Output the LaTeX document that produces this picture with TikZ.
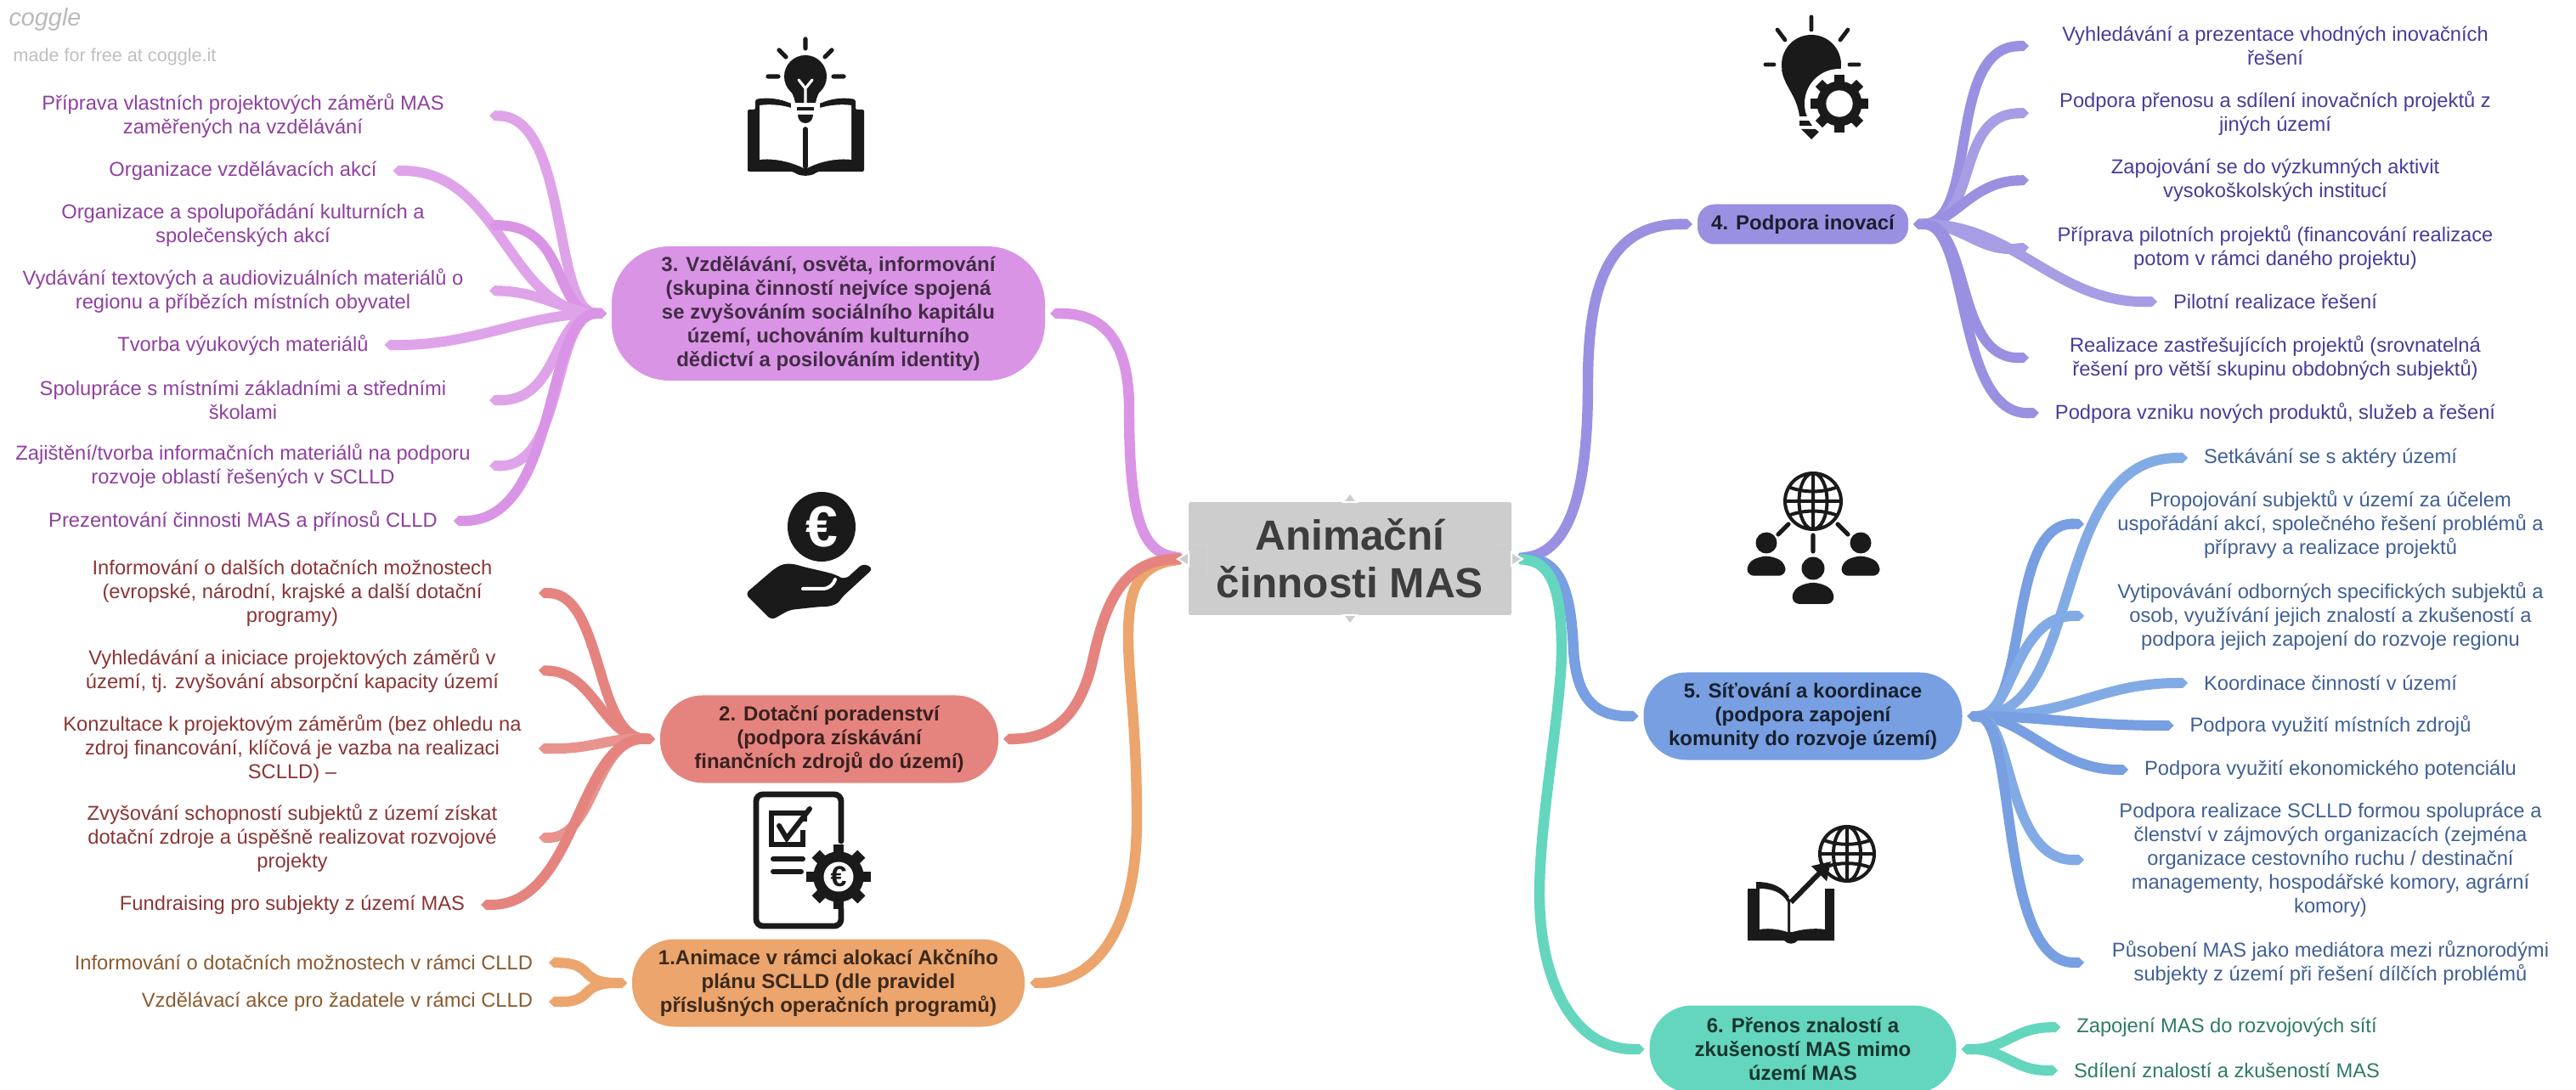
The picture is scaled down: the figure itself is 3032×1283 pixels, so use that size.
\documentclass[tikz,border=0pt]{standalone}
\usepackage{fontspec}
\setmainfont{Liberation Sans}
\usetikzlibrary{arrows.meta}

\definecolor{violetnode}{HTML}{DA94E5}
\definecolor{violetbranch}{HTML}{DFA3EA}
\definecolor{violettext}{HTML}{8F3FA0}
\definecolor{rednode}{HTML}{E5847F}
\definecolor{redtext}{HTML}{8B3434}
\definecolor{orangenode}{HTML}{ECA56C}
\definecolor{orangetext}{HTML}{8A5A2E}
\definecolor{indigonode}{HTML}{9A90E2}
\definecolor{indigotext}{HTML}{463C9A}
\definecolor{bluenode}{HTML}{779FE2}
\definecolor{bluebranch}{HTML}{82ABE6}
\definecolor{bluetext}{HTML}{3F5F95}
\definecolor{tealnode}{HTML}{64D6BE}
\definecolor{tealtext}{HTML}{2F7A68}
\definecolor{rootgray}{HTML}{CDCDCD}
\definecolor{icondark}{HTML}{1A1A1A}

\tikzset{
  every picture/.style={line width=0.5pt},
  leaf/.style={font=\fontsize{5.93}{7}\selectfont,align=center,inner xsep=4.5pt,inner ysep=0pt},
  wideleaf/.style={leaf,minimum width=144.5pt},
  mainnode/.style={font=\fontsize{6}{7}\selectfont\bfseries,align=center,rounded corners=12.5pt,inner sep=0pt,minimum height=25.75pt,outer xsep=1.5pt},
  branch/.style={line width=3pt,{Triangle Cap[]}-{Triangle Cap[]}},
  trunk/.style={line width=3.1pt,{Triangle Cap[]}-{Triangle Cap[]}},
  iconline/.style={draw=icondark,line width=1pt,line cap=round},
  iconfill/.style={fill=icondark}
}

% globe at (x,y) with radius r
\newcommand{\globeicon}[3]{
\begin{scope}[shift={(#1,#2)},scale=#3]
\draw [iconline] (0,0) circle (1) (0,0) ellipse (0.5 and 1) (0,-1) -- (0,1) (-1,0) -- (1,0);
\draw [iconline] (-0.85,-0.5) .. controls (-0.3,-0.3) and (0.3,-0.3) .. (0.85,-0.5);
\draw [iconline] (-0.85,0.5) .. controls (-0.3,0.3) and (0.3,0.3) .. (0.85,0.5);
\end{scope}}
% gear at (x,y) with radius r
\newcommand{\gearicon}[3]{
\begin{scope}[shift={(#1,#2)},scale=#3]
\foreach \toothangle in {0,45,...,315}
  \fill [iconfill,rotate=\toothangle] (-0.17,0.6) rectangle (0.17,1);
\fill [iconfill] (0,0) circle (0.78);
\fill [white] (0,0) circle (0.46);
\end{scope}}
% person at (x,y) of the head
\newcommand{\personicon}[3]{
\fill [iconfill] (#1,#2) circle (#3);
\fill [iconfill,rounded corners=2pt] ({#1-1.8*#3},{#2+3.1*#3}) -- ({#1-1.8*#3},{#2+1.9*#3}) -- ({#1-0.6*#3},{#2+1.25*#3}) -- ({#1+0.6*#3},{#2+1.25*#3}) -- ({#1+1.8*#3},{#2+1.9*#3}) -- ({#1+1.8*#3},{#2+3.1*#3}) -- cycle;}

\begin{document}
\begin{tikzpicture}[x=0.25pt,y=0.25pt,yscale=-1,xscale=1]
\useasboundingbox (0,-2) rectangle (3032,1281);

% Logo
\node (logo) at (53,21) [text=black!27,font=\fontsize{7.2}{8}\selectfont\itshape] {coggle};
\node (madefor) at (135,65) [text=black!25,font=\fontsize{5.4}{7}\selectfont] {made for free at coggle.it};

% Root
\node (root) at (1589,655.5) [fill=rootgray,text=black!76,font=\fontsize{12.4}{14}\selectfont\bfseries,align=center,minimum width=95pt,minimum height=33.25pt,inner sep=0pt,rounded corners=0.6pt,outer xsep=1pt] {Animační\\činnosti MAS};

% Main nodes
\node (vzdel) at (975,367) [mainnode,fill=violetnode,text=violetnode!30!black,minimum width=127.5pt,minimum height=39.5pt,rounded corners=17pt] {3. Vzdělávání, osvěta, informování\\(skupina činností nejvíce spojená\\se zvyšováním sociálního kapitálu\\území, uchováním kulturního\\dědictví a posilováním identity)};
\node (dotac) at (976,868) [mainnode,fill=rednode,text=rednode!25!black,minimum width=99.5pt] {2. Dotační poradenství\\(podpora získávání\\finančních zdrojů do území)};
\node (anim) at (975,1155) [mainnode,fill=orangenode,text=orangenode!25!black,minimum width=115.5pt] {1.Animace v rámci alokací Akčního\\plánu SCLLD (dle pravidel\\příslušných operačních programů)};
\node (inov) at (2122,262) [mainnode,fill=indigonode,text=indigonode!20!black,minimum width=62pt,minimum height=11.75pt,rounded corners=5pt] {4. Podpora inovací};
\node (sit) at (2122,841) [mainnode,fill=bluenode,text=bluenode!20!black,minimum width=93.75pt] {5. Síťování a koordinace\\(podpora zapojení\\komunity do rozvoje území)};
\node (prenos) at (2122,1233) [mainnode,fill=tealnode,text=tealnode!25!black,minimum width=90.25pt] {6. Přenos znalostí a\\zkušeností MAS mimo\\území MAS};

% Leaves of 3
\node (va) at (286,134) [wideleaf,text=violettext] {Příprava vlastních projektových záměrů MAS\\zaměřených na vzdělávání};
\node (vb) at (286,199) [leaf,text=violettext] {Organizace vzdělávacích akcí};
\node (vc) at (286,263) [wideleaf,text=violettext] {Organizace a spolupořádání kulturních a\\společenských akcí};
\node (vd) at (286,340) [wideleaf,text=violettext] {Vydávání textových a audiovizuálních materiálů o\\regionu a příbězích místních obyvatel};
\node (ve) at (286,404) [leaf,text=violettext] {Tvorba výukových materiálů};
\node (vf) at (286,469) [wideleaf,text=violettext] {Spolupráce s místními základními a středními\\školami};
\node (vg) at (286,546) [wideleaf,text=violettext] {Zajištění/tvorba informačních materiálů na podporu\\rozvoje oblastí řešených v SCLLD};
\node (vh) at (286,611) [leaf,text=violettext] {Prezentování činnosti MAS a přínosů CLLD};

% Leaves of 2
\node (da) at (344,696) [wideleaf,text=redtext] {Informování o dalších dotačních možnostech\\(evropské, národní, krajské a další dotační\\programy)};
\node (db) at (344,787) [wideleaf,text=redtext] {Vyhledávání a iniciace projektových záměrů v\\území, tj. zvyšování absorpční kapacity území};
\node (dc) at (344,879) [wideleaf,text=redtext] {Konzultace k projektovým záměrům (bez ohledu na\\zdroj financování, klíčová je vazba na realizaci\\SCLLD) –};
\node (dd) at (344,984) [wideleaf,text=redtext] {Zvyšování schopností subjektů z území získat\\dotační zdroje a úspěšně realizovat rozvojové\\projekty};
\node (de) at (344,1063) [leaf,text=redtext] {Fundraising pro subjekty z území MAS};

% Leaves of 1
\node (aa) at (646,1131) [leaf,anchor=east,text=orangetext] {Informování o dotačních možnostech v rámci CLLD};
\node (ab) at (646,1177) [leaf,anchor=east,text=orangetext] {Vzdělávací akce pro žadatele v rámci CLLD};

% Leaves of 4
\node (ia) at (2678,52) [wideleaf,text=indigotext] {Vyhledávání a prezentace vhodných inovačních\\řešení};
\node (ib) at (2678,131) [wideleaf,text=indigotext] {Podpora přenosu a sdílení inovačních projektů z\\jiných území};
\node (ic) at (2678,210) [wideleaf,text=indigotext] {Zapojování se do výzkumných aktivit\\vysokoškolských institucí};
\node (id) at (2678,289) [wideleaf,text=indigotext] {Příprava pilotních projektů (financování realizace\\potom v rámci daného projektu)};
\node (ie) at (2678,353) [leaf,text=indigotext] {Pilotní realizace řešení};
\node (if) at (2678,419) [wideleaf,text=indigotext] {Realizace zastřešujících projektů (srovnatelná\\řešení pro větší skupinu obdobných subjektů)};
\node (ig) at (2678,484) [leaf,text=indigotext] {Podpora vzniku nových produktů, služeb a řešení};

% Leaves of 5
\node (sa) at (2743,537) [leaf,text=bluetext] {Setkávání se s aktéry území};
\node (sb) at (2743,615) [wideleaf,text=bluetext] {Propojování subjektů v území za účelem\\uspořádání akcí, společného řešení problémů a\\přípravy a realizace projektů};
\node (sc) at (2743,723) [wideleaf,text=bluetext] {Vytipovávání odborných specifických subjektů a\\osob, využívání jejich znalostí a zkušeností a\\podpora jejich zapojení do rozvoje regionu};
\node (sd) at (2743,802) [leaf,text=bluetext] {Koordinace činností v území};
\node (se) at (2743,852) [leaf,text=bluetext] {Podpora využití místních zdrojů};
\node (sf) at (2743,904) [leaf,text=bluetext] {Podpora využití ekonomického potenciálu};
\node (sg) at (2743,1010) [wideleaf,text=bluetext] {Podpora realizace SCLLD formou spolupráce a\\členství v zájmových organizacích (zejména\\organizace cestovního ruchu / destinační\\managementy, hospodářské komory, agrární\\komory)};
\node (sh) at (2743,1131) [wideleaf,text=bluetext] {Působení MAS jako mediátora mezi různorodými\\subjekty z území při řešení dílčích problémů};

% Leaves of 6
\node (pa) at (2621,1207) [leaf,text=tealtext] {Zapojení MAS do rozvojových sítí};
\node (pb) at (2621,1258) [leaf,text=tealtext] {Sdílení znalostí a zkušeností MAS};

% Trunks
\draw [trunk,draw=violetnode] (vzdel.east) .. controls (1300,367) and (1329,400) .. (1329,480) .. controls (1329,610) and (1345,648) .. (root.west);
\draw [trunk,draw=orangenode] (anim.east) .. controls (1290,1155) and (1338,1090) .. (1338,963) .. controls (1338,850) and (1328,800) .. (1328,747) .. controls (1328,690) and (1340,664) .. (root.west);
\draw [trunk,draw=rednode] (dotac.east) .. controls (1240,867) and (1270,840) .. (1285,780) .. controls (1300,710) and (1320,658) .. (root.west);
\draw [trunk,draw=indigonode] (root.east) .. controls (1850,648) and (1869,570) .. (1869,450) .. controls (1869,340) and (1890,261) .. (inov.west);
\draw [trunk,draw=bluenode] (root.east) .. controls (1835,655) and (1849,690) .. (1852,763) .. controls (1855,810) and (1870,841) .. (sit.west);
\draw [trunk,draw=tealnode] (root.east) .. controls (1825,660) and (1838,690) .. (1838,763) .. controls (1838,830) and (1812,960) .. (1812,1050) .. controls (1812,1150) and (1850,1233) .. (prenos.west);

% Root edge and tips, over the trunks
\fill [white] (1399,640) rectangle (1420,672) (1779,640) rectangle (1758,672);
\fill [rootgray] (1399,640) rectangle (1420,672) (1779,640) rectangle (1758,672);
\fill [rootgray,draw=white,line width=0.5pt] (1589,578) -- (1581,589) -- (1597,589) -- cycle (1589,733) -- (1581,722) -- (1597,722) -- cycle (1386,656) -- (1399,648) -- (1399,664) -- cycle (1792,656) -- (1779,648) -- (1779,664) -- cycle;

% Branches of 3
\draw [branch,draw=violetbranch] (vzdel.west) .. controls (650,367) and (670,137) .. (va.east);
\draw [branch,draw=violetbranch] (vzdel.west) .. controls (600,367) and (590,199) .. (vb.east);
\draw [branch,draw=violetnode] (vzdel.west) .. controls (650,367) and (670,265) .. (vc.east);
\draw [branch,draw=violetbranch] (vzdel.west) .. controls (670,367) and (640,342) .. (vd.east);
\draw [branch,draw=violetbranch] (vzdel.west) .. controls (620,367) and (560,405) .. (ve.east);
\draw [branch,draw=violetbranch] (vzdel.west) .. controls (650,367) and (660,470) .. (vf.east);
\draw [branch,draw=violetbranch] (vzdel.west) .. controls (650,367) and (665,548) .. (vg.east);
\draw [branch,draw=violetnode] (vzdel.west) .. controls (640,367) and (660,612) .. (vh.east);

% Branches of 2
\draw [branch,draw=rednode] (dotac.west) .. controls (700,866) and (710,697) .. (da.east);
\draw [branch,draw=rednode] (dotac.west) .. controls (710,866) and (700,790) .. (db.east);
\draw [branch,draw=rednode!88!white] (dotac.west) .. controls (715,866) and (700,880) .. (dc.east);
\draw [branch,draw=rednode!88!white] (dotac.west) .. controls (700,866) and (700,984) .. (dd.east);
\draw [branch,draw=rednode] (dotac.west) .. controls (680,866) and (680,1063) .. (de.east);

% Branches of 1
\draw [branch,draw=orangenode] (anim.west) .. controls (680,1155) and (700,1132) .. (aa.east);
\draw [branch,draw=orangenode] (anim.west) .. controls (680,1155) and (700,1178) .. (ab.east);

% Branches of 4
\draw [branch,draw=indigonode] (inov.east) .. controls (2330,261) and (2290,54) .. (ia.west);
\draw [branch,draw=indigonode!88!white] (inov.east) .. controls (2330,261) and (2300,133) .. (ib.west);
\draw [branch,draw=indigonode] (inov.east) .. controls (2300,261) and (2320,212) .. (ic.west);
\draw [branch,draw=indigonode!88!white] (inov.east) .. controls (2310,261) and (2330,296) .. (id.west);
\draw [branch,draw=indigonode!88!white] (inov.east) .. controls (2370,261) and (2420,355) .. (ie.west);
\draw [branch,draw=indigonode] (inov.east) .. controls (2320,261) and (2300,420) .. (if.west);
\draw [branch,draw=indigonode] (inov.east) .. controls (2320,261) and (2300,486) .. (ig.west);

% Branches of 5
\draw [branch,draw=bluenode] (sit.east) .. controls (2390,841) and (2360,612) .. (sb.west);
\draw [branch,draw=bluebranch] (sit.east) .. controls (2455,841) and (2410,537) .. (sa.west);
\draw [branch,draw=bluebranch] (sit.east) .. controls (2370,841) and (2370,723) .. (sc.west);
\draw [branch,draw=bluebranch] (sit.east) .. controls (2440,841) and (2470,802) .. (sd.west);
\draw [branch,draw=bluenode] (sit.east) .. controls (2400,841) and (2450,852) .. (se.west);
\draw [branch,draw=bluenode] (sit.east) .. controls (2380,841) and (2420,904) .. (sf.west);
\draw [branch,draw=bluebranch] (sit.east) .. controls (2370,841) and (2360,1011) .. (sg.west);
\draw [branch,draw=bluenode] (sit.east) .. controls (2375,841) and (2350,1131) .. (sh.west);

% Branches of 6
\draw [branch,draw=tealnode] (prenos.east) .. controls (2360,1233) and (2370,1208) .. (pa.west);
\draw [branch,draw=tealnode] (prenos.east) .. controls (2360,1233) and (2370,1258) .. (pb.west);

% Icon book and bulb
\fill [iconfill,rounded corners=0.5pt] (880,127) -- (889,127) -- (889,115) .. controls (905,112) and (920,115) .. (931,120) -- (965,120) .. controls (976,115) and (990,112) .. (1007,115) -- (1007,127) -- (1017,127) -- (1017,200) -- (962,200) .. controls (955,206) and (941,206) .. (934,200) -- (880,200) -- cycle;
\fill [white] (894,122) .. controls (908,120) and (922,122) .. (931,125) -- (931,110) -- (965,110) -- (965,125) .. controls (975,122) and (990,120) .. (1002,122) -- (1002,186) .. controls (985,184) and (965,188) .. (950,196) -- (946,196) .. controls (930,188) and (910,184) .. (894,186) -- cycle;
\draw [iconline,line width=1.4pt] (948,150) -- (948,194);
\fill [iconfill] (948,88) circle (25);
\fill [iconfill] (926,98) .. controls (932,106) and (935,112) .. (936,119) -- (960,119) .. controls (961,112) and (964,106) .. (970,98) -- cycle;
\draw [white,line width=0.8pt,line cap=round] (948,119) -- (948,102) -- (940,92) (948,102) -- (956,92);
\fill [iconfill] (938,124) rectangle (958,128.5);
\fill [iconfill] (939,133) -- (957,133) .. controls (957,139) and (953,143) .. (948,143) .. controls (943,143) and (939,139) .. (939,133) -- cycle;
\draw [iconline,line width=1.3pt] (948,44) -- (948,55) (917,57) -- (925,65) (979,57) -- (971,65) (904,88) -- (916,88) (981,88) -- (993,88);

% Icon coin and hand
\fill [iconfill] (967,618) ellipse (40 and 41);
\node (euroa) at (967,618) [text=white,font=\fontsize{17}{18}\selectfont\bfseries,inner sep=0pt] {€};
\fill [iconfill,rounded corners=1.5pt] (908,728) -- (877,697) -- (912,667) .. controls (925,660) and (935,662) .. (945,665) -- (975,672) .. controls (985,675) and (990,678) .. (995,680) -- (1016,661) -- (1028,667) -- (991,701) .. controls (985,710) and (975,712) .. (966,712) -- (929,716) -- cycle;
\draw [white,line width=1pt,line cap=round] (945,691) -- (968,691) .. controls (976,691) and (981,686) .. (983,680);

% Icon checklist with gear
\draw [iconline,line width=1.7pt,rounded corners=2pt] (990,988) -- (990,933) -- (890,933) -- (890,1088) -- (990,1088) -- (990,1068);
\draw [iconline,line width=1.4pt,line cap=butt] (947,965) -- (947,955) -- (908,955) -- (908,992) -- (945,992) -- (945,975);
\draw [iconline,line width=1.5pt] (917,970) -- (926,985) -- (953,950);
\draw [iconline,line width=1.5pt] (910,1009) -- (945,1009) (910,1024) -- (943,1024);
\gearicon{987}{1030}{38}
\node (eurob) at (987,1030) [text=icondark,font=\fontsize{8.5}{9}\selectfont\bfseries,inner sep=0pt] {€};

% Icon bulb with gear
\fill [iconfill] (2132,74) ellipse (35 and 35);
\fill [iconfill] (2097,80) .. controls (2100,100) and (2115,110) .. (2118,135) -- (2145,135) -- (2170,80) -- cycle;
\fill [iconfill] (2118,140) rectangle (2140,146);
\fill [iconfill] (2120,150) -- (2144,150) -- (2132,162) -- cycle;
\fill [white] (2165,120) circle (41);
\gearicon{2165}{120}{34}
\draw [iconline,line width=1.2pt] (2132,18) -- (2132,33) (2092,33) -- (2101,45) (2175,33) -- (2166,45) (2078,74) -- (2088,74) (2177,74) -- (2188,74);

% Icon globe and people
\globeicon{2134}{588}{33}
\draw [iconline,line width=1.3pt] (2093,627) -- (2105,615) (2163,615) -- (2175,627) (2134,628) -- (2134,647);
\personicon{2079}{637}{12.5}
\personicon{2190}{637}{12.5}
\personicon{2134}{667}{13.5}

% Icon book and globe
\fill [iconfill] (2057,1044) -- (2067,1044) -- (2067,1036) .. controls (2085,1036) and (2100,1042) .. (2107,1056) -- (2107,1095) -- (2110,1095) .. controls (2120,1092) and (2135,1090) .. (2148,1092) -- (2148,1044) -- (2159,1044) -- (2159,1105) -- (2116,1105) .. controls (2112,1110) and (2104,1110) .. (2100,1105) -- (2057,1105) -- cycle;
\fill [white] (2071,1044) .. controls (2085,1044) and (2097,1048) .. (2104,1060) -- (2104,1095) .. controls (2095,1092) and (2083,1090) .. (2071,1092) -- cycle;
\globeicon{2174}{1003}{32}
\draw [line width=2.2pt,draw=white] (2108,1058) -- (2150,1020);
\draw [line width=1.5pt,draw=icondark,-{Triangle[length=5pt,width=6pt]}] (2108,1060) -- (2155,1012);
\end{tikzpicture}
\end{document}
